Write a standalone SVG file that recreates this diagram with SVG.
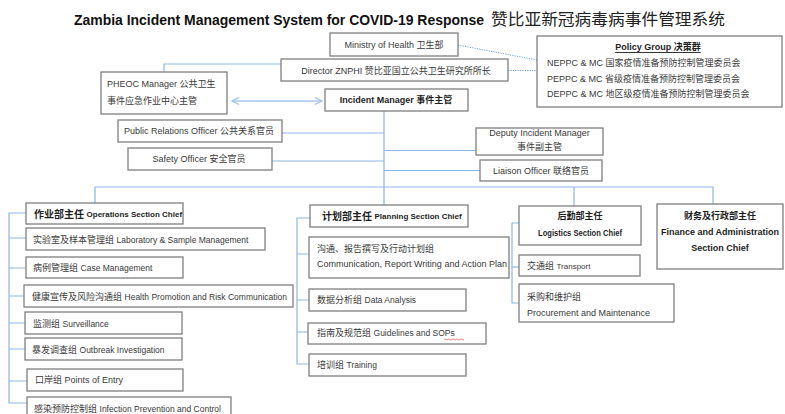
<svg xmlns="http://www.w3.org/2000/svg" width="785" height="414" viewBox="0 0 785 414">
<defs>
<style>
.bg{fill:#ffffff}
.box{fill:#ffffff;stroke:#7f7f7f;stroke-width:1.3}
.ln{fill:none;stroke:#8fb6e0;stroke-width:1.2}
.dot{fill:none;stroke:#6f9fd0;stroke-width:1;stroke-dasharray:1.2 1.2}
.t{font-family:"Liberation Sans","Noto Sans CJK SC",sans-serif;font-size:9px;fill:#3a3a3a;dominant-baseline:central}
.b{font-weight:bold;fill:#1e1e1e}
.c{text-anchor:middle}
.title{font-family:"Liberation Sans","Noto Sans CJK SC",sans-serif;font-weight:bold;fill:#111;}
</style>
<marker id="ah" viewBox="0 0 10 10" refX="9" refY="5" markerWidth="9" markerHeight="9" orient="auto-start-reverse" markerUnits="userSpaceOnUse">
<path d="M1,1 L9,5 L1,9" fill="none" stroke="#9fc3ea" stroke-width="1.3"/>
</marker>
</defs>
<rect class="bg" x="0" y="0" width="785" height="414"/>

<g id="title">
<text class="title" x="74" y="25" font-size="14" textLength="410" lengthAdjust="spacingAndGlyphs">Zambia Incident Management System for COVID-19 Response</text>
<text x="491" y="25" font-family="'Noto Sans CJK SC',sans-serif" font-size="16" fill="#222" textLength="234" lengthAdjust="spacingAndGlyphs">赞比亚新冠病毒病事件管理系统</text>
</g>

<g id="connectors">
<path class="ln" d="M164,72 V64 H281"/>
<line x1="232" y1="101" x2="322" y2="101" stroke="#a9c9ec" stroke-width="1.3" marker-start="url(#ah)" marker-end="url(#ah)"/>
<path class="dot" d="M458,45 L537,60"/>
<path class="dot" d="M508,70.5 H537"/>
<path class="ln" d="M384,111 V205"/>
<path class="ln" d="M282,133 H384"/>
<path class="ln" d="M272,161 H384"/>
<path class="ln" d="M384,150.5 H476"/>
<path class="ln" d="M384,170.5 H480"/>
<path class="ln" d="M95,203 V187 H713 V204"/>
<path class="ln" d="M574,187 V206"/>
<path class="ln" d="M26,213 H9 V403 H27"/>
<path class="ln" d="M9,238 H26 M9,268 H26 M9,296 H24 M9,323 H25 M9,349 H25 M9,381 H27"/>
<path class="ln" d="M310,218 H297 V364 H309"/>
<path class="ln" d="M297,254 H309 M297,300 H309 M297,332 H308"/>
<path class="ln" d="M519,223 H512 V303 H519"/>
<path class="ln" d="M512,267 H519"/>
</g>

<g id="ministry">
<rect class="box" x="330" y="33" width="128" height="23"/>
<text class="t c" x="394" y="45">Ministry of Health 卫生部</text>
</g>
<g id="director">
<rect class="box" x="281" y="59" width="227" height="22"/>
<text class="t c" x="396" y="70.5">Director ZNPHI 赞比亚国立公共卫生研究所所长</text>
</g>
<g id="policy">
<rect class="box" x="537" y="36" width="245" height="71"/>
<text class="t b c" x="658" y="47" text-decoration="underline">Policy Group 决策群</text>
<text class="t" x="547" y="63" font-size="9.4">NEPPC &amp; MC 国家疫情准备预防控制管理委员会</text>
<text class="t" x="547" y="79" font-size="9.4">PEPPC &amp; MC 省级疫情准备预防控制管理委员会</text>
<text class="t" x="547" y="94" font-size="9.4">DEPPC &amp; MC 地区级疫情准备预防控制管理委员会</text>
</g>
<g id="pheoc">
<rect class="box" x="101" y="72" width="126" height="42"/>
<text class="t" x="107" y="84">PHEOC Manager 公共卫生</text>
<text class="t" x="107" y="101">事件应急作业中心主管</text>
</g>
<g id="incident">
<rect class="box" x="325" y="89" width="143" height="22"/>
<text class="t b c" x="396" y="100">Incident Manager 事件主管</text>
</g>
<g id="pr">
<rect class="box" x="118" y="120" width="164" height="22"/>
<text class="t c" x="199" y="131" font-size="8.5">Public Relations Officer 公共关系官员</text>
</g>
<g id="safety">
<rect class="box" x="128" y="148" width="144" height="22"/>
<text class="t c" x="199" y="159">Safety Officer 安全官员</text>
</g>
<g id="deputy">
<rect class="box" x="476" y="128" width="127" height="27"/>
<text class="t c" x="539.5" y="133" font-size="8.5">Deputy Incident Manager</text>
<text class="t c" x="539.5" y="147">事件副主管</text>
</g>
<g id="liaison">
<rect class="box" x="480" y="160" width="122" height="21"/>
<text class="t c" x="541" y="171" font-size="8.5">Liaison Officer 联络官员</text>
</g>

<g id="operations">
<rect class="box" x="26" y="203" width="157" height="21"/>
<text class="t b" x="34" y="214"><tspan font-size="10">作业部主任</tspan> <tspan font-size="8">Operations Section Chief</tspan></text>
</g>
<g id="lab">
<rect class="box" x="26" y="228" width="239" height="22"/>
<text class="t" x="33" y="240">实验室及样本管理组 <tspan font-size="8.5">Laboratory &amp; Sample Management</tspan></text>
</g>
<g id="case">
<rect class="box" x="26" y="257" width="157" height="21"/>
<text class="t" x="33" y="268">病例管理组 <tspan font-size="8.5">Case Management</tspan></text>
</g>
<g id="health">
<rect class="box" x="24" y="285" width="269" height="22"/>
<text class="t" x="32" y="297">健康宣传及风险沟通组 <tspan font-size="8.5">Health Promotion and Risk Communication</tspan></text>
</g>
<g id="surveillance">
<rect class="box" x="25" y="312" width="157" height="22"/>
<text class="t" x="33" y="324">监测组 <tspan font-size="8.5">Surveillance</tspan></text>
</g>
<g id="outbreak">
<rect class="box" x="25" y="338" width="157" height="22"/>
<text class="t" x="32" y="350">暴发调查组 <tspan font-size="8.5">Outbreak Investigation</tspan></text>
</g>
<g id="poe">
<rect class="box" x="27" y="369" width="156" height="22"/>
<text class="t" x="35" y="380">口岸组 <tspan font-size="9">Points of Entry</tspan></text>
</g>
<g id="ipc">
<rect class="box" x="27" y="397" width="204" height="22"/>
<text class="t" x="34" y="409">感染预防控制组 <tspan font-size="8.5">Infection Prevention and Control</tspan></text>
</g>

<g id="planning">
<rect class="box" x="310" y="205" width="158" height="22"/>
<text class="t b" x="322" y="216"><tspan font-size="10">计划部主任</tspan> <tspan font-size="8">Planning Section Chief</tspan></text>
</g>
<g id="comm">
<rect class="box" x="309" y="237" width="200" height="41"/>
<text class="t" x="317" y="249">沟通、报告撰写及行动计划组</text>
<text class="t" x="317" y="264" font-size="7.8">Communication, Report Writing and Action Plan</text>
</g>
<g id="data">
<rect class="box" x="309" y="289" width="157" height="22"/>
<text class="t" x="317" y="300">数据分析组 <tspan font-size="8.5">Data Analysis</tspan></text>
</g>
<g id="guidelines">
<rect class="box" x="308" y="323" width="178" height="21"/>
<text class="t" x="317" y="333">指南及规范组 <tspan font-size="8.5">Guidelines and SOPs</tspan></text>
<path d="M444,339.5 q1,-1 2,0 t2,0 t2,0 t2,0 t2,0 t2,0 t2,0 t2,0 t2,0 t2,0" fill="none" stroke="#e0554d" stroke-width="0.7"/>
</g>
<g id="training">
<rect class="box" x="309" y="354" width="157" height="22"/>
<text class="t" x="317" y="365">培训组 <tspan font-size="8.5">Training</tspan></text>
</g>

<g id="logistics">
<rect class="box" x="519" y="206" width="122" height="39"/>
<text class="t b c" x="580" y="216" font-size="10">后勤部主任</text>
<text class="t b c" x="580" y="233" font-size="7" textLength="84" lengthAdjust="spacingAndGlyphs">Logistics Section Chief</text>
</g>
<g id="transport">
<rect class="box" x="519" y="255" width="121" height="21"/>
<text class="t" x="527" y="266">交通组 <tspan font-size="8">Transport</tspan></text>
</g>
<g id="procurement">
<rect class="box" x="519" y="284" width="155" height="38"/>
<text class="t" x="527" y="297">采购和维护组</text>
<text class="t" x="527" y="313" font-size="8.5">Procurement and Maintenance</text>
</g>

<g id="finance">
<rect class="box" x="657" y="204" width="126" height="65"/>
<text class="t b c" x="720" y="216" font-size="10">财务及行政部主任</text>
<text class="t b c" x="720" y="232" font-size="8.2">Finance and Administration</text>
<text class="t b c" x="720" y="248" font-size="8.2">Section Chief</text>
</g>
</svg>
